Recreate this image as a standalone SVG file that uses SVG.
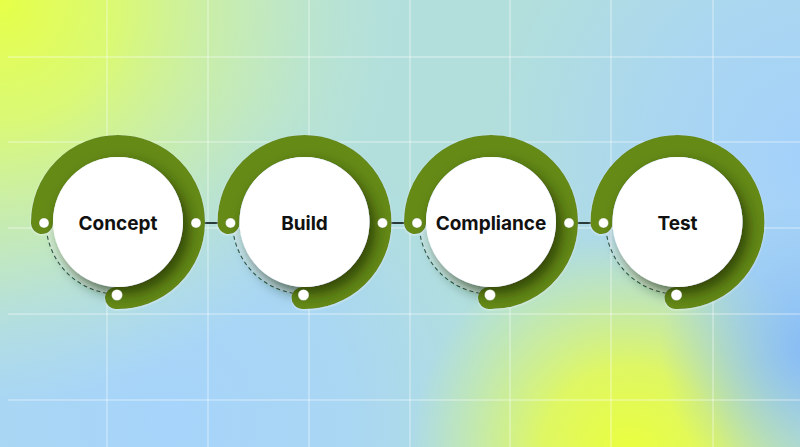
<svg xmlns="http://www.w3.org/2000/svg" width="800" height="447" viewBox="0 0 800 447">
  <defs>
    <radialGradient id="gYellowTL" cx="0" cy="0" r="400" gradientUnits="userSpaceOnUse">
      <stop offset="0" stop-color="#e6ff47"/>
      <stop offset="0.3" stop-color="#dcfa70" stop-opacity="0.95"/>
      <stop offset="0.65" stop-color="#cdf0a8" stop-opacity="0.6"/>
      <stop offset="1" stop-color="#c0ead0" stop-opacity="0"/>
    </radialGradient>
    <radialGradient id="gBlueBL" cx="170" cy="420" r="330" gradientUnits="userSpaceOnUse">
      <stop offset="0" stop-color="#a6d4fb"/>
      <stop offset="0.55" stop-color="#a8d5f6" stop-opacity="0.85"/>
      <stop offset="1" stop-color="#a8d5f6" stop-opacity="0"/>
    </radialGradient>
    <radialGradient id="gBlueR" cx="820" cy="160" r="330" gradientUnits="userSpaceOnUse">
      <stop offset="0" stop-color="#a3d0fb"/>
      <stop offset="0.5" stop-color="#a8d4f6" stop-opacity="0.8"/>
      <stop offset="1" stop-color="#a8d4f6" stop-opacity="0"/>
    </radialGradient>
    <radialGradient id="gYellowB" cx="630" cy="455" r="220" gradientUnits="userSpaceOnUse">
      <stop offset="0" stop-color="#eaff3c"/>
      <stop offset="0.4" stop-color="#e4fa55" stop-opacity="0.9"/>
      <stop offset="1" stop-color="#d4f480" stop-opacity="0"/>
    </radialGradient>
    <radialGradient id="gBlueBR" cx="810" cy="350" r="150" gradientUnits="userSpaceOnUse">
      <stop offset="0" stop-color="#86bbf6"/>
      <stop offset="1" stop-color="#90c4f7" stop-opacity="0"/>
    </radialGradient>
    <filter id="shadow" x="-30%" y="-30%" width="160%" height="160%">
      <feDropShadow dx="6" dy="7" stdDeviation="7" flood-color="#1a2a00" flood-opacity="0.7"/>
    </filter>
    <filter id="ringShadow" x="-20%" y="-20%" width="140%" height="140%">
      <feDropShadow dx="0" dy="1" stdDeviation="1.2" flood-color="#ffffff" flood-opacity="0.5"/>
    </filter>
  </defs>
  <style>
    .grid line { stroke: #ffffff; stroke-opacity: 0.55; stroke-width: 1; }
    .ring { fill: none; stroke: #658a16; stroke-width: 22; stroke-linecap: round; }
    .band { fill: none; stroke: #ffffff; stroke-opacity: 0.3; stroke-width: 7; }
    .dash { fill: none; stroke: #2f5848; stroke-width: 1.1; stroke-dasharray: 4 3; }
    .disc { fill: #ffffff; }
    .dot { fill: #ffffff; stroke: #4a6a20; stroke-opacity: 0.35; stroke-width: 0.8; }
    .label { font-family: Inter, "Liberation Sans", sans-serif; font-weight: 700; font-size: 19px; fill: #111111; text-anchor: middle; }
    .conn line { stroke: #2a3a38; stroke-width: 2; }
  </style>

  <!-- background -->
  <rect x="0" y="0" width="800" height="447" fill="#b2dfdc"/>
  <rect x="0" y="0" width="800" height="447" fill="url(#gBlueBL)"/>
  <rect x="0" y="0" width="800" height="447" fill="url(#gBlueR)"/>
  <rect x="0" y="0" width="800" height="447" fill="url(#gYellowTL)"/>
  <rect x="0" y="0" width="800" height="447" fill="url(#gYellowB)"/>
  <rect x="0" y="0" width="800" height="447" fill="url(#gBlueBR)"/>

  <g class="grid">
    <line x1="107" y1="0" x2="107" y2="447"/>
    <line x1="208" y1="0" x2="208" y2="447"/>
    <line x1="309" y1="0" x2="309" y2="447"/>
    <line x1="410" y1="0" x2="410" y2="447"/>
    <line x1="510" y1="0" x2="510" y2="447"/>
    <line x1="611" y1="0" x2="611" y2="447"/>
    <line x1="713" y1="0" x2="713" y2="447"/>
    <line x1="8" y1="57" x2="800" y2="57"/>
    <line x1="8" y1="142" x2="800" y2="142"/>
    <line x1="8" y1="228" x2="800" y2="228"/>
    <line x1="8" y1="314" x2="800" y2="314"/>
    <line x1="8" y1="400" x2="800" y2="400"/>
  </g>

  <g id="connectors" class="conn">
    <line x1="196" y1="223" x2="230.5" y2="223"/>
    <line x1="382.5" y1="223" x2="417" y2="223"/>
    <line x1="569" y1="223" x2="603.5" y2="223"/>
  </g>

  <g id="node-concept" transform="translate(118 222)">
    <path class="band" d="M -68.5 0 A 68.5 68.5 0 0 0 0 68.5"/>
    <path class="dash" d="M -72 0 A 72 72 0 0 0 0 72"/>
    <path class="ring" filter="url(#ringShadow)" d="M -76 1 A 76 76 0 1 1 -2 76"/>
    <circle class="disc" r="65" filter="url(#shadow)"/>
    <circle class="dot" cx="-74" cy="1" r="5"/>
    <circle class="dot" cx="78" cy="1" r="5"/>
    <circle class="dot" cx="-1" cy="73" r="5.5"/>
    <text class="label" x="0" y="8">Concept</text>
  </g>

  <g id="node-build" transform="translate(304.5 222)">
    <path class="band" d="M -68.5 0 A 68.5 68.5 0 0 0 0 68.5"/>
    <path class="dash" d="M -72 0 A 72 72 0 0 0 0 72"/>
    <path class="ring" filter="url(#ringShadow)" d="M -76 1 A 76 76 0 1 1 -2 76"/>
    <circle class="disc" r="65" filter="url(#shadow)"/>
    <circle class="dot" cx="-74" cy="1" r="5"/>
    <circle class="dot" cx="78" cy="1" r="5"/>
    <circle class="dot" cx="-1" cy="73" r="5.5"/>
    <text class="label" x="0" y="8">Build</text>
  </g>

  <g id="node-compliance" transform="translate(491 222)">
    <path class="band" d="M -68.5 0 A 68.5 68.5 0 0 0 0 68.5"/>
    <path class="dash" d="M -72 0 A 72 72 0 0 0 0 72"/>
    <path class="ring" filter="url(#ringShadow)" d="M -76 1 A 76 76 0 1 1 -2 76"/>
    <circle class="disc" r="65" filter="url(#shadow)"/>
    <circle class="dot" cx="-74" cy="1" r="5"/>
    <circle class="dot" cx="78" cy="1" r="5"/>
    <circle class="dot" cx="-1" cy="73" r="5.5"/>
    <text class="label" x="0" y="8">Compliance</text>
  </g>

  <g id="node-test" transform="translate(677.5 222)">
    <path class="band" d="M -68.5 0 A 68.5 68.5 0 0 0 0 68.5"/>
    <path class="dash" d="M -72 0 A 72 72 0 0 0 0 72"/>
    <path class="ring" filter="url(#ringShadow)" d="M -76 1 A 76 76 0 1 1 -2 76"/>
    <circle class="disc" r="65" filter="url(#shadow)"/>
    <circle class="dot" cx="-74" cy="1" r="5"/>
    <circle class="dot" cx="-1" cy="73" r="5.5"/>
    <text class="label" x="0" y="8">Test</text>
  </g>
</svg>
